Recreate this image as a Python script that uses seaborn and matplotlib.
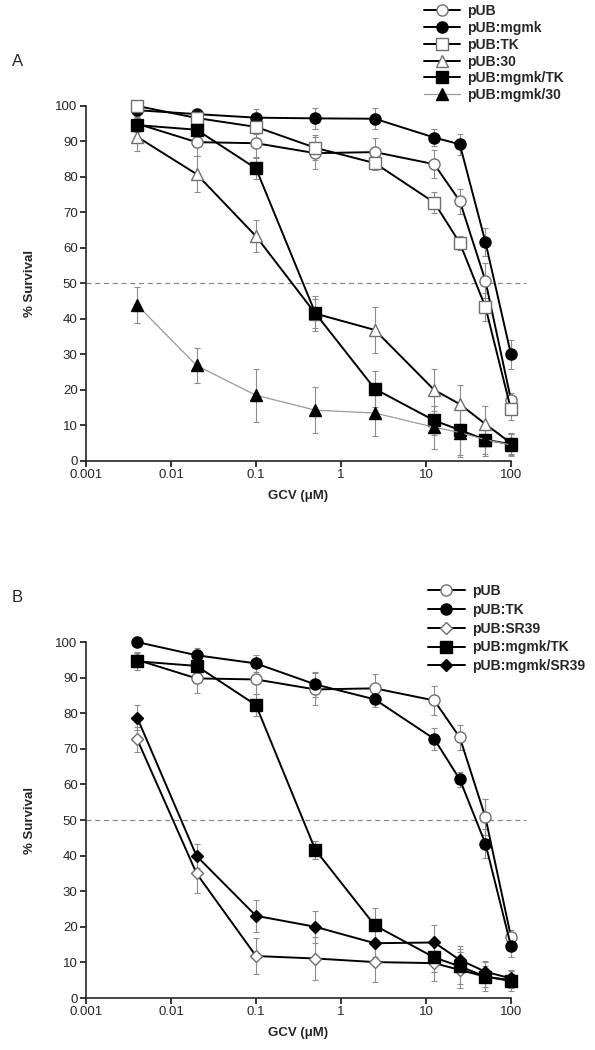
import numpy as np
import pandas as pd
import seaborn as sns
import matplotlib
matplotlib.use("Agg")
import matplotlib.pyplot as plt

# ---------------- STYLE ----------------
sns.set_theme(style="ticks")
plt.rcParams["font.family"] = ["Liberation Sans", "DejaVu Sans"]
plt.rcParams["axes.linewidth"] = 1.2

# ---------------- DATA ----------------
gcv = [0.004, 0.02, 0.1, 0.5, 2.5, 12.5, 25, 50, 100]
threshold = 50

# panel A
a_pub = [95.0, 89.8, 89.5, 86.7, 87.0, 83.6, 73.2, 50.8, 17.2]
a_pub_err = [2, 4, 4, 4.5, 4, 4, 3.5, 5, 2]
a_mgmk = [98.8, 97.7, 96.7, 96.5, 96.4, 91.1, 89.2, 61.7, 30.0]
a_mgmk_err = [1.5, 1.5, 2.5, 3, 3, 2.5, 3, 4, 4]
a_tk = [100.0, 96.6, 94.1, 88.2, 83.9, 72.8, 61.4, 43.4, 14.5]
a_tk_err = [1, 2, 2, 3.5, 2, 3, 2, 4, 3]
a_30 = [91.3, 80.8, 63.3, 41.5, 36.9, 20.0, 16.0, 10.4, 5.0]
a_30_err = [4, 5, 4.5, 4, 6.5, 6, 5.5, 5, 3]
a_mgmk_tk = [94.6, 93.3, 82.4, 41.6, 20.3, 11.4, 8.7, 6.0, 4.7]
a_mgmk_tk_err = [2, 2.5, 3, 5, 5, 4, 7, 4, 3]
a_mgmk_30 = [43.9, 26.9, 18.5, 14.3, 13.5, 9.5, 8.0, 6.0, 4.5]
a_mgmk_30_err = [5, 5, 7.5, 6.5, 6.5, 6, 7, 4.5, 3]

# panel B
b_pub = [95.0, 89.8, 89.5, 86.7, 87.0, 83.6, 73.2, 50.8, 17.2]
b_pub_err = [2, 4, 4, 4.5, 4, 4, 3.5, 5, 2]
b_tk = [100.0, 96.3, 94.0, 88.1, 83.9, 72.8, 61.4, 43.4, 14.6]
b_tk_err = [1, 2, 2.5, 3.5, 2, 3, 2, 4, 3]
b_sr39 = [72.7, 35.0, 11.8, 11.1, 10.1, 9.8, 7.9, 6.0, 5.0]
b_sr39_err = [3.5, 5.5, 5, 6, 5.5, 5, 5, 4, 3]
b_mgmk_tk = [94.6, 93.3, 82.3, 41.6, 20.4, 11.4, 8.9, 6.0, 4.8]
b_mgmk_tk_err = [2.5, 2.5, 3, 2.5, 5, 4, 5, 3, 2]
b_mgmk_sr39 = [78.8, 39.9, 23.1, 20.0, 15.4, 15.6, 10.7, 7.4, 5.5]
b_mgmk_sr39_err = [3.5, 3.5, 4.5, 4.5, 4, 5, 4, 3, 2]

OPEN = "white"
EDGE = "#6e6e6e"

# (label, values, errors, marker, face, edge, line colour, line width, marker size)
series_a = [
    ("pUB", a_pub, a_pub_err, "o", OPEN, EDGE, "black", 1.4, 8),
    ("pUB:mgmk", a_mgmk, a_mgmk_err, "o", "black", "black", "black", 1.4, 8),
    ("pUB:TK", a_tk, a_tk_err, "s", OPEN, EDGE, "black", 1.4, 8),
    ("pUB:30", a_30, a_30_err, "^", OPEN, EDGE, "black", 1.4, 8.5),
    ("pUB:mgmk/TK", a_mgmk_tk, a_mgmk_tk_err, "s", "black", "black", "black", 1.4, 8),
    ("pUB:mgmk/30", a_mgmk_30, a_mgmk_30_err, "^", "black", "black", "#9a9a9a", 0.9, 8.5),
]
series_b = [
    ("pUB", b_pub, b_pub_err, "o", OPEN, EDGE, "black", 1.4, 8),
    ("pUB:TK", b_tk, b_tk_err, "o", "black", "black", "black", 1.4, 8),
    ("pUB:SR39", b_sr39, b_sr39_err, "D", OPEN, EDGE, "black", 1.4, 6),
    ("pUB:mgmk/TK", b_mgmk_tk, b_mgmk_tk_err, "s", "black", "black", "black", 1.4, 8),
    ("pUB:mgmk/SR39", b_mgmk_sr39, b_mgmk_sr39_err, "D", "black", "black", "black", 1.4, 6),
]

# ---------------- FIGURE ----------------
fig = plt.figure(figsize=(5.95, 10.5), dpi=100)
ax_a = fig.add_axes([0.1445, 0.5610, 0.7143, 0.3381])
ax_b = fig.add_axes([0.1445, 0.0495, 0.7143, 0.3390])


def draw_panel(ax, series, legend_anchor, spacing):
    ax.set_xscale("log")
    ax.hlines(threshold, 0.001, 150, colors="#8a8a8a", linestyles=(0, (4, 3)),
              linewidth=0.9, clip_on=False, zorder=1)
    handles = []
    for i, (lab, vals, errs, mk, face, edge, lc, lw, ms) in enumerate(series):
        ax.errorbar(gcv, vals, yerr=errs, fmt="none", ecolor="#8c8c8c",
                    elinewidth=0.8, capsize=2.5, capthick=0.8,
                    clip_on=False, zorder=2)
        df = pd.DataFrame({"x": gcv, "y": vals})
        sns.lineplot(data=df, x="x", y="y", ax=ax, color=lc, linewidth=lw,
                     marker=mk, markersize=ms, markerfacecolor=face,
                     markeredgecolor=edge, markeredgewidth=1.0,
                     clip_on=False, zorder=3 + i, label=lab, legend=False)
        handles.append(ax.lines[-1])
    ax.set_xlim(0.001, 100)
    ax.set_ylim(0, 100)
    ax.set_xticks([0.001, 0.01, 0.1, 1, 10, 100])
    ax.set_xticklabels(["0.001", "0.01", "0.1", "1", "10", "100"])
    ax.minorticks_off()
    ax.set_yticks(range(0, 101, 10))
    ax.tick_params(axis="both", labelsize=9.5, length=4, width=1.1,
                   color="black", direction="out", pad=2)
    ax.set_xlabel("GCV (\u03bcM)", fontsize=9.5, fontweight="bold", labelpad=6)
    ax.set_ylabel("% Survival", fontsize=9.5, fontweight="bold", labelpad=14)
    sns.despine(ax=ax)
    leg = fig.legend(handles=handles, labels=[s[0] for s in series],
                     loc="upper left", bbox_to_anchor=legend_anchor,
                     frameon=False, prop={"weight": "bold", "size": 10},
                     handlelength=2.6, handletextpad=0.55, labelspacing=spacing,
                     borderpad=0, borderaxespad=0, numpoints=1)
    return leg


draw_panel(ax_a, series_a, (0.712, 0.996), 0.2)
draw_panel(ax_b, series_b, (0.720, 0.444), 0.35)

fig.text(12 / 595, 1 - 62 / 1050, "A", fontsize=12, va="center")
fig.text(12 / 595, 1 - 598 / 1050, "B", fontsize=12, va="center")

fig.savefig("out.png", dpi=100, facecolor="white")
